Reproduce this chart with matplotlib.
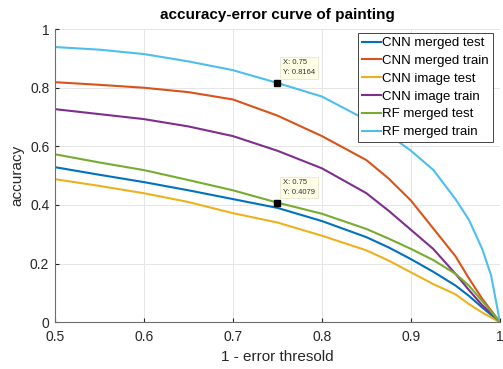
import matplotlib
matplotlib.use('Agg')
import matplotlib.pyplot as plt

plt.rcParams['font.family'] = ['Liberation Sans', 'DejaVu Sans']

thr = [0.5, 0.55, 0.6, 0.65, 0.7, 0.75, 0.8, 0.85, 0.875, 0.9, 0.925, 0.95, 0.965, 0.98, 0.99, 1.0]

cnn_merged_test = [0.529, 0.503, 0.478, 0.45, 0.42, 0.39, 0.345, 0.29, 0.255, 0.215, 0.172, 0.125, 0.09, 0.05, 0.025, 0.0]
cnn_merged_train = [0.819, 0.81, 0.80, 0.785, 0.76, 0.705, 0.635, 0.553, 0.49, 0.415, 0.32, 0.225, 0.15, 0.08, 0.04, 0.0]
cnn_image_test = [0.488, 0.465, 0.44, 0.41, 0.372, 0.34, 0.295, 0.245, 0.21, 0.17, 0.13, 0.095, 0.062, 0.033, 0.016, 0.0]
cnn_image_train = [0.727, 0.71, 0.693, 0.668, 0.635, 0.585, 0.525, 0.44, 0.38, 0.315, 0.25, 0.165, 0.11, 0.058, 0.03, 0.0]
rf_merged_test = [0.573, 0.545, 0.519, 0.485, 0.45, 0.4079, 0.37, 0.318, 0.285, 0.25, 0.212, 0.165, 0.125, 0.072, 0.036, 0.0]
rf_merged_train = [0.939, 0.93, 0.915, 0.89, 0.86, 0.8164, 0.77, 0.69, 0.64, 0.585, 0.52, 0.42, 0.35, 0.25, 0.16, 0.0]

labels = ['CNN merged test', 'CNN merged train', 'CNN image test',
          'CNN image train', 'RF merged test', 'RF merged train']
series = [cnn_merged_test, cnn_merged_train, cnn_image_test,
          cnn_image_train, rf_merged_test, rf_merged_train]
colors = ['#0072BD', '#D95319', '#EDB120', '#7E2F8E', '#77AC30', '#4DBEEE']

# datatips (x, y)
tips = [(0.75, 0.8164), (0.75, 0.4079)]

fig = plt.figure(figsize=(5.03, 3.69), dpi=100)
ax = fig.add_axes([0.109, 0.127, 0.885, 0.794])

for s, lab, c in zip(series, labels, colors):
    ax.plot(thr, s, color=c, lw=1.5, label=lab)

for tx, ty in tips:
    ax.plot(tx, ty, 's', color='black', ms=4, zorder=5)
    ax.annotate('X: %g\nY: %.4f' % (tx, ty), xy=(tx, ty), xytext=(4, 5),
                textcoords='offset points', fontsize=5.5, color='#333333',
                va='bottom', ha='left', linespacing=1.5,
                bbox=dict(boxstyle='square,pad=0.35', fc='#FFFFE6', ec='#E8E8D0', lw=0.6),
                zorder=6)

ax.set_xlim(0.5, 1)
ax.set_ylim(0, 1)
ax.set_xticks([0.5, 0.6, 0.7, 0.8, 0.9, 1])
ax.set_xticklabels(['0.5', '0.6', '0.7', '0.8', '0.9', '1'])
ax.set_yticks([0, 0.2, 0.4, 0.6, 0.8, 1])
ax.set_yticklabels(['0', '0.2', '0.4', '0.6', '0.8', '1'])
ax.grid(True, color='#E6E6E6', lw=0.7)
ax.set_axisbelow(True)
for side in ['top', 'right']:
    ax.spines[side].set_visible(False)
for side in ['left', 'bottom']:
    ax.spines[side].set_color('#6E6E6E')
ax.tick_params(direction='in', length=3, colors='#262626', labelsize=10, pad=4)
ax.tick_params(axis='x', pad=6)

ax.set_title('accuracy-error curve of painting', fontsize=11, fontweight='bold', pad=7)
ax.set_xlabel('1 - error thresold', fontsize=11, color='#262626', labelpad=4)
ax.set_ylabel('accuracy', fontsize=11, color='#262626', labelpad=4)

leg = ax.legend(loc='upper right', fontsize=9.5, fancybox=False, framealpha=1,
                edgecolor='#262626', borderpad=0.3, labelspacing=0.42,
                handlelength=1.45, handletextpad=0.1, borderaxespad=0.3,
                bbox_to_anchor=(0.993, 1.0))
leg.get_frame().set_linewidth(0.6)

fig.savefig('out.png', dpi=100)
